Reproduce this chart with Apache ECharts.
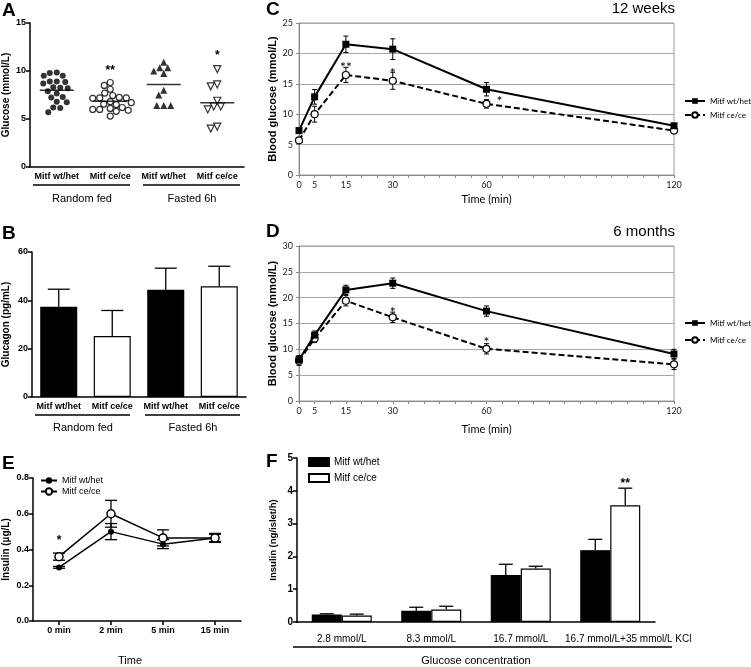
<!DOCTYPE html>
<html><head><meta charset="utf-8">
<script src="https://cdn.jsdelivr.net/npm/echarts@6/dist/echarts.min.js"></script>
<style>html,body{margin:0;padding:0;background:#fff}#c{width:751px;height:667px}</style>
</head><body><div id="c"></div>
<script>
// ---------- Panel A: glucose (mmol/L), individual animals ----------
const aCategories = ['Mitf wt/het', 'Mitf ce/ce', 'Mitf wt/het', 'Mitf ce/ce'];
const aWtFed   = [9.85, 9.8, 9.5, 9.5, 8.9, 8.85, 8.9, 8.7, 8.3, 8.25, 8.2, 7.9, 7.65, 7.3, 7.25, 6.8, 6.75, 6.2, 6.15, 5.7];
const aCeFed   = [8.8, 8.5, 8.1, 7.7, 7.45, 7.25, 7.2, 7.2, 7.15, 6.8, 6.7, 6.55, 6.5, 6.2, 6.1, 6.0, 6.0, 5.9, 5.8, 5.3];
const aWtFast  = [10.9, 10.35, 10.35, 10.0, 9.75, 8.0, 7.5, 6.4, 6.4, 6.4];
const aCeFast  = [10.2, 8.6, 8.4, 6.9, 6.3, 6.0, 6.3, 4.0, 4.2];
const aMeans   = [8.0, 6.85, 8.6, 6.7];
const aStars   = [[1, 10.3, '**'], [3, 11.9, '*']];
const aGroups  = ['Random fed', 'Fasted 6h'];

// ---------- Panel B: glucagon (pg/mL) ----------
const bValues = [37.3, 25.2, 44.4, 45.8];
const bErr    = [7.3, 10.6, 8.9, 8.3];

// ---------- Panel C: IPGTT 12 weeks ----------
const timePoints = [0, 5, 15, 30, 60, 120];
const timeTickLabels = [0, 5, 15, 30, 60, 120];
const cWt    = [7.3, 12.85, 21.5, 20.7, 14.1, 8.1];
const cWtErr = [0.4, 1.2, 1.35, 1.7, 1.1, 0.3];
const cCe    = [5.7, 10.0, 16.45, 15.5, 11.7, 7.3];
const cCeErr = [0.4, 1.3, 1.25, 1.4, 0.7, 0.3];
const cStars = [[15, 18.3, '**'], [30, 17.4, '*'], [60, 12.7, '*']];

// ---------- Panel D: IPGTT 6 months ----------
const dWt    = [8.0, 12.75, 21.5, 22.8, 17.4, 9.1];
const dWtErr = [0.8, 0.8, 0.9, 1.0, 1.0, 0.9];
const dCe    = [7.8, 12.1, 19.4, 16.2, 10.1, 7.1];
const dCeErr = [0.9, 0.8, 1.0, 1.0, 1.0, 1.0];
const dStars = [[30, 17.9, '*'], [60, 12.1, '*']];

// ---------- Panel E: insulin (µg/L) ----------
const eCategories = ['0 min', '2 min', '5 min', '15 min'];
const eWt    = [0.30, 0.50, 0.43, 0.465];
const eWtErr = [0.005, 0.045, 0.025, 0.025];
const eCe    = [0.36, 0.60, 0.465, 0.465];
const eCeErr = [0.02, 0.075, 0.045, 0.02];
const eStars = [[0, 0.465, '*']];

// ---------- Panel F: insulin secretion (ng/islet/h) ----------
const fCategories = ['2.8 mmol/L', '8.3 mmol/L', '16.7 mmol/L', '16.7 mmol/L+35 mmol/L KCl'];
const fWt    = [0.23, 0.34, 1.43, 2.19];
const fWtErr = [0.02, 0.11, 0.33, 0.33];
const fCe    = [0.20, 0.38, 1.63, 3.56];
const fCeErr = [0.04, 0.10, 0.07, 0.52];
const fStars = [[3, 4.3, '**']];

const legendNames = {cWt:'Mitf wt/het', cCe:'Mitf ce/ce', dWt:'Mitf wt/het', dCe:'Mitf ce/ce',
  eWt:'Mitf wt/het', eCe:'Mitf ce/ce', fWt:'Mitf wt/het', fCe:'Mitf ce/ce'};

const ARIAL = '"Liberation Sans", Arial, sans-serif';
const CALI = 'Lato, "Open Sans", sans-serif';

// simple beeswarm: horizontal pixel offsets so markers don't overlap
function swarm(vals, pxPerUnit, d) {
  const placed = [], off = new Array(vals.length);
  const order = vals.map((v, i) => i).sort((a, b) => vals[b] - vals[a]);
  order.forEach(i => {
    const y = vals[i] * pxPerUnit;
    let best = 0;
    outer: for (let s = 0; s < 80; s += 0.5) {
      const cands = s === 0 ? [0] : [-s, s];
      for (const dx of cands) {
        if (placed.every(p => (p.x - dx) ** 2 + (p.y - y) ** 2 >= d * d)) { best = dx; break outer; }
      }
    }
    placed.push({x: best, y}); off[i] = best;
  });
  return off;
}

function swarmSeries(idx, vals, symbol, filled, rotate) {
  const off = swarm(vals, 144 / 15, 6.6);
  return {
    type: 'scatter', xAxisIndex: 0, yAxisIndex: 0, symbol, symbolSize: symbol === 'circle' ? 6 : 7,
    symbolRotate: rotate || 0, z: 3,
    itemStyle: filled ? {color: '#000'} : {color: '#fff', borderColor: '#000', borderWidth: 1.2},
    data: vals.map((v, i) => ({value: [idx, v], symbolOffset: [off[i], 0]})),
    silent: true
  };
}

function errSeries(axis, vals, errs, xs, cap, pxOff, upOnly, lw) {
  return {
    type: 'custom', xAxisIndex: axis, yAxisIndex: axis, z: 2, silent: true,
    data: vals.map((v, i) => [xs[i], v, errs[i]]),
    renderItem(params, api) {
      const x = api.value(0), v = api.value(1), e = api.value(2);
      const lo = api.coord([x, upOnly ? v : v - e]);
      const hi = api.coord([x, v + e]);
      const cx = hi[0] + pxOff;
      const style = {stroke: '#000', lineWidth: lw || 1.2};
      const ch = [
        {type: 'line', shape: {x1: cx, y1: lo[1], x2: cx, y2: hi[1]}, style},
        {type: 'line', shape: {x1: cx - cap, y1: hi[1], x2: cx + cap, y2: hi[1]}, style}
      ];
      if (!upOnly) ch.push({type: 'line', shape: {x1: cx - cap, y1: lo[1], x2: cx + cap, y2: lo[1]}, style});
      return {type: 'group', children: ch};
    }
  };
}

function textSeries(axis, items, font, dx, dy) {
  return {
    type: 'custom', xAxisIndex: axis, yAxisIndex: axis, z: 6, silent: true,
    data: items.map(it => [it[0], it[1]]),
    renderItem(params, api) {
      const p = api.coord([api.value(0), api.value(1)]);
      return {type: 'text', x: p[0] + (dx || 0), y: p[1] + (dy || 0),
        style: {text: items[params.dataIndex][2], font, fill: '#000', align: 'center', verticalAlign: 'middle'}};
    }
  };
}

const prismAxisLine = {show: true, lineStyle: {color: '#000', width: 1.5}};
const prismTick = {show: true, length: 4, lineStyle: {color: '#000', width: 1.5}};
const prismLabel = {fontFamily: ARIAL, fontWeight: 'bold', fontSize: 9, color: '#000', margin: 4};
const prismName = {fontFamily: ARIAL, fontWeight: 'bold', fontSize: 10, color: '#000'};

function prismY(grid, max, interval, name, gap, extra) {
  return Object.assign({
    gridIndex: grid, type: 'value', min: 0, max, interval,
    axisLine: prismAxisLine, axisTick: prismTick, axisLabel: Object.assign({}, prismLabel),
    splitLine: {show: false}, name, nameLocation: 'middle', nameGap: gap, nameTextStyle: prismName
  }, extra || {});
}

function excelX(grid, gap) {
  return {
    gridIndex: grid, type: 'value', min: 0, max: 120, interval: 5,
    axisLine: {show: true, lineStyle: {color: '#8a8a8a', width: 1}},
    axisTick: {show: true, length: 3, lineStyle: {color: '#8a8a8a'}},
    axisLabel: {formatter: v => timeTickLabels.includes(v) ? String(v) : '', fontFamily: CALI, fontSize: 9, color: '#222', margin: 6},
    splitLine: {show: false},
    name: 'Time (min)', nameLocation: 'middle', nameGap: gap,
    nameTextStyle: {fontFamily: CALI, fontSize: 11, color: '#000'}
  };
}
function excelY(grid, max) {
  return {
    gridIndex: grid, type: 'value', min: 0, max, interval: 5,
    axisLine: {show: true, lineStyle: {color: '#8a8a8a', width: 1}},
    axisTick: {show: true, length: 3, lineStyle: {color: '#8a8a8a'}},
    axisLabel: {fontFamily: CALI, fontSize: 9, color: '#222', margin: 6},
    splitLine: {show: true, lineStyle: {color: '#a8a8a8', width: 1}},
    name: 'Blood glucose (mmol/L)', nameLocation: 'middle', nameGap: 21,
    nameTextStyle: {fontFamily: ARIAL, fontWeight: 'bold', fontSize: 11, color: '#000'}
  };
}

function glucoseLines(axis, prefix, wt, ce) {
  return [
    {name: prefix + 'Wt', type: 'line', xAxisIndex: axis, yAxisIndex: axis, z: 4, silent: true,
     data: timePoints.map((t, i) => [t, wt[i]]), symbol: 'rect', symbolSize: 7,
     lineStyle: {color: '#000', width: 2}, itemStyle: {color: '#000'}},
    {name: prefix + 'Ce', type: 'line', xAxisIndex: axis, yAxisIndex: axis, z: 3, silent: true,
     data: timePoints.map((t, i) => [t, ce[i]]), symbol: 'circle', symbolSize: 7,
     lineStyle: {color: '#000', width: 2, type: [6, 3]},
     itemStyle: {color: '#fff', borderColor: '#000', borderWidth: 1.2}}
  ];
}

const chart = echarts.init(document.getElementById('c'), null, {renderer: 'canvas'});

const legendBase = {orient: 'vertical', padding: 0, selectedMode: false, formatter: n => legendNames[n]};

chart.setOption({
  animation: false,
  backgroundColor: '#fff',
  grid: [
    {left: 30, top: 23, width: 214, height: 144, outerBoundsMode: 'none'},
    {left: 32, top: 252, width: 214, height: 145, outerBoundsMode: 'none'},
    {left: 299, top: 23, width: 375, height: 152, show: true, borderColor: '#9a9a9a', borderWidth: 1, outerBoundsMode: 'none'},
    {left: 299, top: 246, width: 375, height: 155, show: true, borderColor: '#9a9a9a', borderWidth: 1, outerBoundsMode: 'none'},
    {left: 33, top: 478, width: 208, height: 143, outerBoundsMode: 'none'},
    {left: 297, top: 458, width: 358, height: 164, outerBoundsMode: 'none'}
  ],
  xAxis: [
    {gridIndex: 0, type: 'category', data: aCategories, axisLine: prismAxisLine, axisTick: {show: false},
     axisLabel: Object.assign({}, prismLabel, {interval: 0, margin: 5})},
    {gridIndex: 1, type: 'category', data: aCategories, axisLine: prismAxisLine, axisTick: {show: false},
     axisLabel: Object.assign({}, prismLabel, {interval: 0, margin: 5})},
    excelX(2, 19),
    excelX(3, 23),
    {gridIndex: 4, type: 'category', data: eCategories, axisLine: prismAxisLine,
     axisTick: {show: true, alignWithLabel: true, length: 4, lineStyle: {color: '#000', width: 1.5}},
     axisLabel: Object.assign({}, prismLabel, {interval: 0, margin: 5})},
    {gridIndex: 5, type: 'category', data: fCategories, axisLine: prismAxisLine, axisTick: {show: false},
     axisLabel: {interval: 0, fontFamily: ARIAL, fontSize: 10, color: '#000', margin: 12,
       formatter: (v, i) => i === fCategories.length - 1 ? '{s|' + v + '}' : v,
       rich: {s: {fontFamily: ARIAL, fontSize: 10, color: '#000', padding: [0, 0, 0, 36]}}}}
  ],
  yAxis: [
    prismY(0, 15, 5, 'Glucose (mmol/L)', 19),
    prismY(1, 60, 20, 'Glucagon (pg/mL)', 21),
    excelY(2, 25),
    excelY(3, 30),
    prismY(4, 0.8, 0.2, 'Insulin (µg/L)', 22, {axisLabel: Object.assign({}, prismLabel, {formatter: v => v.toFixed(1)})}),
    prismY(5, 5, 1, 'Insulin (ng/islet/h)', 19, {nameTextStyle: Object.assign({}, prismName, {fontSize: 9.5}),
      axisLabel: Object.assign({}, prismLabel, {fontSize: 10})})
  ],
  legend: [
    Object.assign({}, legendBase, {data: ['cWt', 'cCe'], left: 684, top: 97, itemGap: 6, itemWidth: 20, itemHeight: 7,
      textStyle: {fontFamily: CALI, fontSize: 8, color: '#000'}}),
    Object.assign({}, legendBase, {data: ['dWt', 'dCe'], left: 684, top: 319, itemGap: 9, itemWidth: 20, itemHeight: 7,
      textStyle: {fontFamily: CALI, fontSize: 8, color: '#000'}}),
    Object.assign({}, legendBase, {data: ['eWt', 'eCe'], left: 40, top: 476, itemGap: 2, itemWidth: 16, itemHeight: 8,
      textStyle: {fontFamily: ARIAL, fontSize: 9, color: '#000'}}),
    Object.assign({}, legendBase, {data: ['fWt', 'fCe'], left: 308, top: 457, itemGap: 6, itemWidth: 20, itemHeight: 8,
      icon: 'rect', textStyle: {fontFamily: ARIAL, fontSize: 10, color: '#000'}})
  ],
  series: [
    // A
    swarmSeries(0, aWtFed, 'circle', true),
    swarmSeries(1, aCeFed, 'circle', false),
    swarmSeries(2, aWtFast, 'triangle', true),
    swarmSeries(3, aCeFast, 'triangle', false, 180),
    {type: 'scatter', xAxisIndex: 0, yAxisIndex: 0, symbol: 'rect', symbolSize: [34, 1.6], z: 4, silent: true,
     itemStyle: {color: '#000'}, data: aMeans.map((m, i) => [i, m])},
    textSeries(0, aStars, 'bold 12px ' + ARIAL, 0, 3),
    // B
    {type: 'bar', xAxisIndex: 1, yAxisIndex: 1, barWidth: 37, silent: true, z: 3,
     data: bValues.map((v, i) => ({value: v, itemStyle: {color: i % 2 === 0 ? '#000' : '#fff', borderColor: '#000', borderWidth: 1.2}}))},
    errSeries(1, bValues, bErr, [0, 1, 2, 3], 11, 0, true, 1.3),
    // C
    ...glucoseLines(2, 'c', cWt, cCe),
    errSeries(2, cWt, cWtErr, timePoints, 2.5, 0, false, 1),
    errSeries(2, cCe, cCeErr, timePoints, 2.5, 0, false, 1),
    textSeries(2, cStars.slice(0, 2), '14px ' + CALI, 0, 4),
    textSeries(2, cStars.slice(2), '14px ' + CALI, 13, 4),
    // D
    ...glucoseLines(3, 'd', dWt, dCe),
    errSeries(3, dWt, dWtErr, timePoints, 2.5, 0, false, 1),
    errSeries(3, dCe, dCeErr, timePoints, 2.5, 0, false, 1),
    textSeries(3, dStars, '14px ' + CALI, 0, 4),
    // E
    {name: 'eWt', type: 'line', xAxisIndex: 4, yAxisIndex: 4, z: 4, silent: true, data: eWt,
     symbol: 'circle', symbolSize: 6, lineStyle: {color: '#000', width: 1.5}, itemStyle: {color: '#000'}},
    {name: 'eCe', type: 'line', xAxisIndex: 4, yAxisIndex: 4, z: 4, silent: true, data: eCe,
     symbol: 'circle', symbolSize: 8, lineStyle: {color: '#000', width: 1.5},
     itemStyle: {color: '#fff', borderColor: '#000', borderWidth: 1.5}},
    errSeries(4, eWt, eWtErr, [0, 1, 2, 3], 6, 0, false, 1.3),
    errSeries(4, eCe, eCeErr, [0, 1, 2, 3], 6, 0, false, 1.3),
    textSeries(4, eStars, 'bold 12px ' + ARIAL, 0, 3),
    // F
    {name: 'fWt', type: 'bar', xAxisIndex: 5, yAxisIndex: 5, barWidth: 30, barGap: '0%', silent: true, z: 3, data: fWt,
     itemStyle: {color: '#000', borderColor: '#000', borderWidth: 1.2}},
    {name: 'fCe', type: 'bar', xAxisIndex: 5, yAxisIndex: 5, barWidth: 30, barGap: '0%', silent: true, z: 3, data: fCe,
     itemStyle: {color: '#fff', borderColor: '#000', borderWidth: 1.2}},
    errSeries(5, fWt, fWtErr, [0, 1, 2, 3], 7, -15, true, 1.3),
    errSeries(5, fCe, fCeErr, [0, 1, 2, 3], 7, 15, true, 1.3),
    textSeries(5, fStars, 'bold 12px ' + ARIAL, 15, 3)
  ],
  graphic: [
    {type: 'text', x: 2, y: 1, style: {text: 'A', font: 'bold 19px ' + ARIAL, fill: '#000'}},
    {type: 'text', x: 2, y: 224, style: {text: 'B', font: 'bold 19px ' + ARIAL, fill: '#000'}},
    {type: 'text', x: 266, y: 0, style: {text: 'C', font: 'bold 19px ' + ARIAL, fill: '#000'}},
    {type: 'text', x: 266, y: 222, style: {text: 'D', font: 'bold 19px ' + ARIAL, fill: '#000'}},
    {type: 'text', x: 2, y: 454, style: {text: 'E', font: 'bold 19px ' + ARIAL, fill: '#000'}},
    {type: 'text', x: 266, y: 452, style: {text: 'F', font: 'bold 19px ' + ARIAL, fill: '#000'}},
    {type: 'text', x: 675, y: 8.5, style: {text: '12 weeks', font: '15px ' + ARIAL, fill: '#000', align: 'right', verticalAlign: 'middle'}},
    {type: 'text', x: 675, y: 232, style: {text: '6 months', font: '15px ' + ARIAL, fill: '#000', align: 'right', verticalAlign: 'middle'}},
    // A group brackets
    {type: 'line', shape: {x1: 33, y1: 185, x2: 130, y2: 185}, style: {stroke: '#000', lineWidth: 1.5}},
    {type: 'line', shape: {x1: 143, y1: 185, x2: 240, y2: 185}, style: {stroke: '#000', lineWidth: 1.5}},
    {type: 'text', x: 82, y: 199, style: {text: aGroups[0], font: '11px ' + ARIAL, fill: '#000', align: 'center', verticalAlign: 'middle'}},
    {type: 'text', x: 192, y: 199, style: {text: aGroups[1], font: '11px ' + ARIAL, fill: '#000', align: 'center', verticalAlign: 'middle'}},
    // B group brackets
    {type: 'line', shape: {x1: 35, y1: 415, x2: 130, y2: 415}, style: {stroke: '#000', lineWidth: 1.5}},
    {type: 'line', shape: {x1: 145, y1: 415, x2: 240, y2: 415}, style: {stroke: '#000', lineWidth: 1.5}},
    {type: 'text', x: 83, y: 428, style: {text: aGroups[0], font: '11px ' + ARIAL, fill: '#000', align: 'center', verticalAlign: 'middle'}},
    {type: 'text', x: 193, y: 428, style: {text: aGroups[1], font: '11px ' + ARIAL, fill: '#000', align: 'center', verticalAlign: 'middle'}},
    // E axis title
    {type: 'text', x: 130, y: 661, style: {text: 'Time', font: '11px ' + ARIAL, fill: '#000', align: 'center', verticalAlign: 'middle'}},
    // F bracket
    {type: 'line', shape: {x1: 293, y1: 647, x2: 672, y2: 647}, style: {stroke: '#000', lineWidth: 1.5}},
    {type: 'text', x: 476, y: 661, style: {text: 'Glucose concentration', font: '11px ' + ARIAL, fill: '#000', align: 'center', verticalAlign: 'middle'}}
  ]
});
</script>
</body></html>
